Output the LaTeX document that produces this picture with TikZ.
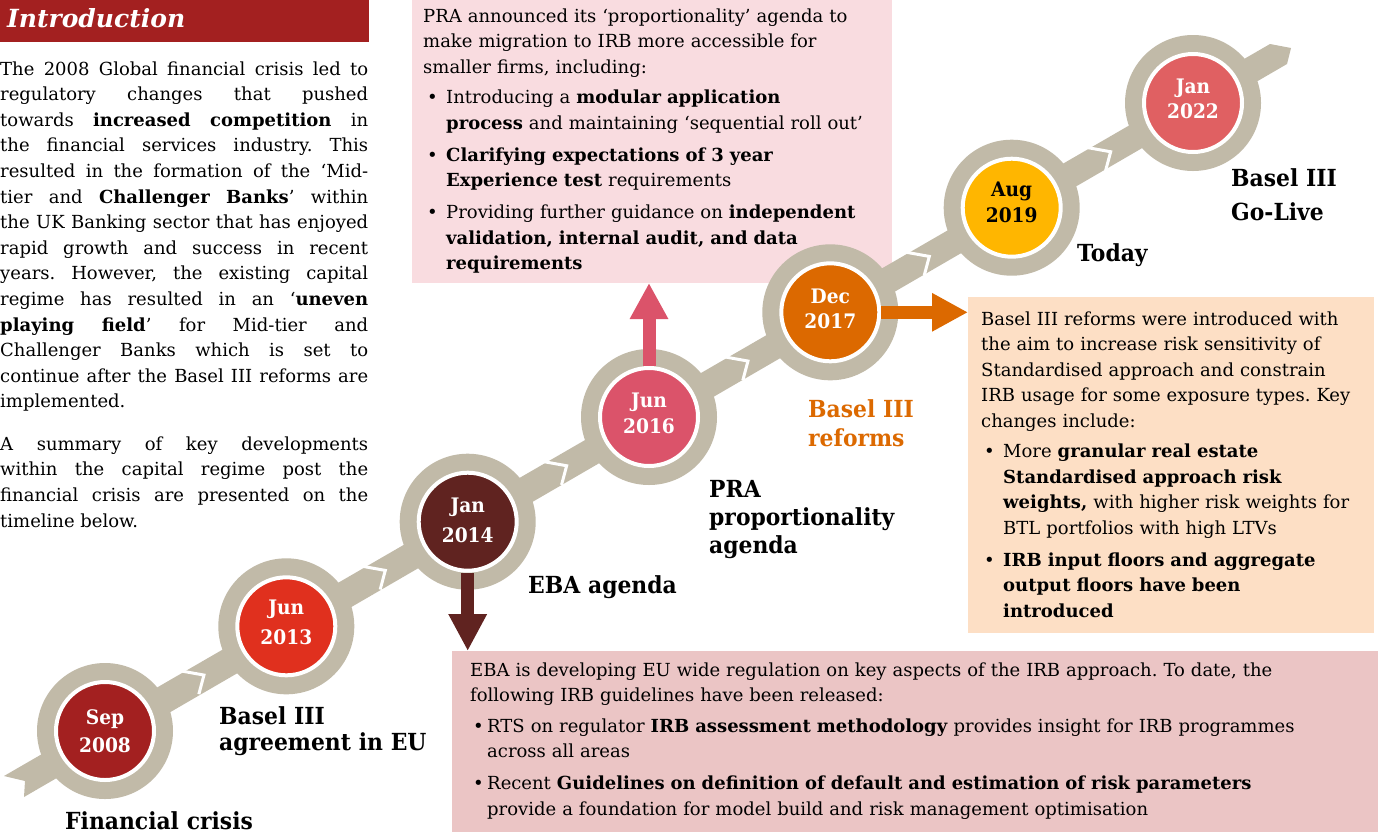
\documentclass[tikz,border=0pt]{standalone}
\usepackage{fontspec}
\setmainfont{DejaVu Serif}
\newfontfamily\labfont{DejaVu Serif}[FakeStretch=0.93]
\usetikzlibrary{arrows.meta,calc}
\definecolor{ringgray}{HTML}{C1BAA8}
\definecolor{cSep}{HTML}{A32020}
\definecolor{cJunA}{HTML}{E0301E}
\definecolor{cJanA}{HTML}{602320}
\definecolor{cJunB}{HTML}{DB536A}
\definecolor{cDec}{HTML}{DC6900}
\definecolor{cAug}{HTML}{FFB600}
\definecolor{cJanB}{HTML}{E06062}
\definecolor{praFill}{HTML}{F9DCE0}
\definecolor{baselFill}{HTML}{FDDFC5}
\definecolor{ebaFill}{HTML}{EBC5C5}
\newcommand{\jl}[1]{\makebox[368pt][s]{#1}\\}
\newenvironment{blist}[2]{\begin{list}{\hspace*{#2}\textbullet\hfill}{%
  \setlength\leftmargin{#1}\setlength\labelwidth{#1}\setlength\labelsep{0pt}%
  \setlength\itemsep{6.5pt}\setlength\parsep{0pt}\setlength\topsep{5pt}%
  \setlength\partopsep{0pt}\setlength\itemindent{0pt}\setlength\listparindent{0pt}}}%
  {\end{list}}
\tikzset{
  boxshape/.style={rectangle, inner sep=0pt, outer sep=0pt, draw=none, anchor=north west},
  bodytext/.style={anchor=base west, inner sep=0pt, align=left, font=\frenchspacing\fontsize{18}{25.5}\selectfont},
  lab/.style={anchor=base west, inner sep=0pt, align=left, text width=260pt, font=\labfont\bfseries\fontsize{23.5}{#1}\selectfont},
  lab/.default=28pt,
  dot/.style={circle, draw=white, line width=4pt, minimum size=98pt, inner sep=0pt},
  datet/.style={anchor=base, inner sep=0pt, text width=90pt, align=center, text=white, font=\labfont\bfseries\fontsize{20}{#1}\selectfont},
  arr/.style={line width=13pt},
  chev/.style={draw=white, line width=3pt}
}
\begin{document}
\begin{tikzpicture}[x=1pt,y=-1pt]
\useasboundingbox (0,0) rectangle (1378,831);
\fill[white] (0,0) rectangle (1378,831);

% boxes
\node[boxshape, fill=praFill, minimum width=480pt, minimum height=283pt] (prabox) at (412,0) {};
\node[boxshape, fill=baselFill, minimum width=406pt, minimum height=336pt] (baselbox) at (968,297) {};
\node[boxshape, fill=ebaFill, minimum width=926pt, minimum height=182pt] (ebabox) at (452,651) {};

% title
\node[boxshape, fill=cSep, minimum width=369pt, minimum height=42pt] (titlebar) at (0,0) {};
\node[anchor=base west, inner sep=0pt, text=white, font=\bfseries\itshape\fontsize{25}{30}\selectfont] (title) at (7,27) {Introduction};

% intro text
\node[anchor=base west, inner sep=0pt, text width=368pt, font=\frenchspacing\fontsize{18}{25.6}\selectfont] (intro) at (0,75) {%
\spaceskip=5.7pt plus 12pt minus 2pt
\jl{The 2008 Global financial crisis led to}
\jl{regulatory changes that pushed}
\jl{towards \textbf{increased competition} in}
\jl{the financial services industry. This}
\jl{resulted in the formation of the ‘Mid-}
\jl{tier and \textbf{Challenger Banks}’ within}
\jl{the UK Banking sector that has enjoyed}
\jl{rapid growth and success in recent}
\jl{years. However, the existing capital}
\jl{regime has resulted in an ‘\textbf{uneven}}
\jl{\textbf{playing field}’ for Mid-tier and}
\jl{Challenger Banks which is set to}
\jl{continue after the Basel III reforms are}
implemented.\par\vspace{16.8pt}
\jl{A summary of key developments}
\jl{within the capital regime post the}
\jl{financial crisis are presented on the}
timeline below.};

% PRA box text
\node[bodytext, text width=478pt] (pratext) at (423,22) {%
PRA announced its ‘proportionality’ agenda to\\
make migration to IRB more accessible for\\
smaller firms, including:
\begin{blist}{23pt}{4pt}
\item Introducing a \textbf{modular application}\\\textbf{process} and maintaining ‘sequential roll out’
\item \textbf{Clarifying expectations of 3 year}\\\textbf{Experience test} requirements
\item Providing further guidance on \textbf{independent}\\\textbf{validation, internal audit, and data}\\\textbf{requirements}
\end{blist}};

% Basel box text
\node[bodytext, text width=400pt] (baseltext) at (981,325) {%
Basel III reforms were introduced with\\
the aim to increase risk sensitivity of\\
Standardised approach and constrain\\
IRB usage for some exposure types. Key\\
changes include:
\begin{blist}{22pt}{3pt}
\item More \textbf{granular real estate}\\\textbf{Standardised approach risk}\\\textbf{weights,} with higher risk weights for\\BTL portfolios with high LTVs
\item \textbf{IRB input floors and aggregate}\\\textbf{output floors have been}\\\textbf{introduced}
\end{blist}};

% EBA box text
\node[bodytext, text width=905pt] (ebatext) at (470,676) {%
EBA is developing EU wide regulation on key aspects of the IRB approach. To date, the\\
following IRB guidelines have been released:
\begin{blist}{17pt}{3pt}
\item RTS on regulator \textbf{IRB assessment methodology} provides insight for IRB programmes\\across all areas
\item Recent \textbf{Guidelines on definition of default and estimation of risk parameters}\\provide a foundation for model build and risk management optimisation
\end{blist}};

% timeline band
\coordinate (p0) at (105,731);
\coordinate (p1) at (286.3,626.3);
\coordinate (p2) at (467.7,521.7);
\coordinate (p3) at (649,417);
\coordinate (p4) at (830.3,312.3);
\coordinate (p5) at (1011.7,207.7);
\coordinate (p6) at (1193,103);
\fill[ringgray] (4,776) -- (1270,44) -- (1291,48) -- (1287,64) -- (24,797) -- (25,781) -- cycle;
\foreach \a/\b in {p0/p1,p1/p2,p2/p3,p3/p4,p4/p5,p5/p6}{
  \coordinate (m) at ($(\a)!0.5!(\b)$);
  \draw[chev] ($(m)+(-16.2,-8)$) -- ($(m)+(8.3,-3.6)$) -- ($(m)+(3.2,15.5)$);
}
\foreach \p in {p0,p1,p2,p3,p4,p5,p6}{
  \fill[ringgray] (\p) circle[radius=68pt];
}

% milestone circles
\node[dot, fill=cSep] (c0) at (p0) {};
\node[dot, fill=cJunA] (c1) at (p1) {};
\node[dot, fill=cJanA] (c2) at (p2) {};
\node[dot, fill=cJunB] (c3) at (p3) {};
\node[dot, fill=cDec] (c4) at (p4) {};
\node[dot, fill=cAug] (c5) at (p5) {};
\node[dot, fill=cJanB] (c6) at (p6) {};

% arrows
\draw[arr, draw=cJunB, -{Triangle[length=36pt,width=36pt]}] (c3) -- (c3 |- prabox.south);
\draw[arr, draw=cJanA, -{Triangle[length=37pt,width=36pt]}] (c2) -- (c2 |- ebabox.north);
\draw[arr, draw=cDec, -{Triangle[length=36pt,width=36pt]}] (c4) -- (c4 -| baselbox.west);

% dates
\node[datet=28pt] (d0) at ($(p0)+(0,-7)$) {Sep\\2008};
\node[datet=30pt] (d1) at ($(p1)+(0,-12)$) {Jun\\2013};
\node[datet=30pt] (d2) at ($(p2)+(0,-9)$) {Jan\\2014};
\node[datet=26pt] (d3) at ($(p3)+(0,-10)$) {Jun\\2016};
\node[datet=25pt] (d4) at ($(p4)+(0,-9)$) {Dec\\2017};
\node[datet=26pt, text=black] (d5) at ($(p5)+(0,-11)$) {Aug\\2019};
\node[datet=25pt] (d6) at ($(p6)+(0,-10)$) {Jan\\2022};

% labels
\node[lab] (l0) at (65,829) {Financial crisis};
\node[lab=26pt] (l1) at (219,724) {Basel III\\agreement in EU};
\node[lab] (l2) at (528,593) {EBA agenda};
\node[lab=28pt] (l3) at (709,497) {PRA\\proportionality\\agenda};
\node[lab=29pt, text=cDec] (l4) at (808,417) {Basel III\\reforms};
\node[lab] (l5) at (1077,261) {Today};
\node[lab=34pt] (l6) at (1231,186) {Basel III\\Go-Live};
\end{tikzpicture}
\end{document}
